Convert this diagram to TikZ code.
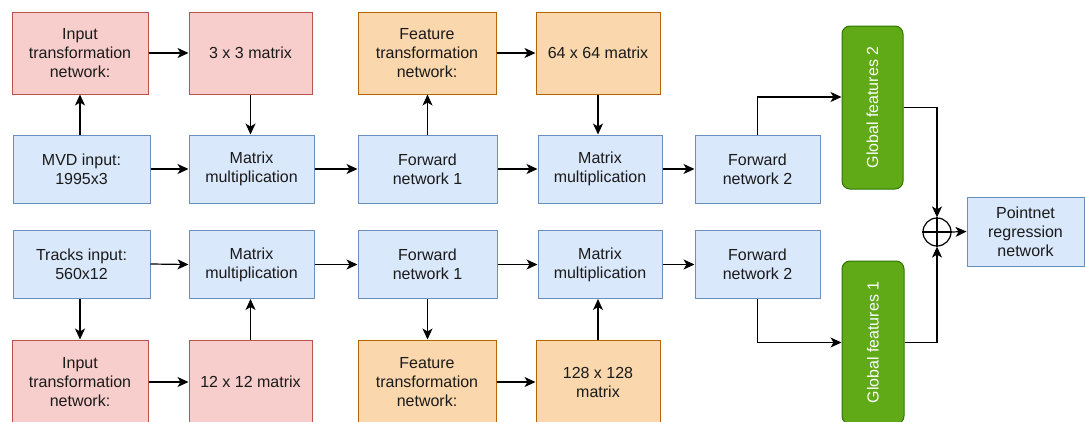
\documentclass[tikz,border=0pt]{standalone}
\usepackage{fontspec}
\setmainfont{Liberation Sans}
\usetikzlibrary{arrows.meta,calc}
\definecolor{bfill}{HTML}{DAE8FC}\definecolor{bdraw}{HTML}{6C8EBF}
\definecolor{rfill}{HTML}{F8CECC}\definecolor{rdraw}{HTML}{B85450}
\definecolor{ofill}{HTML}{FAD7AC}\definecolor{odraw}{HTML}{B46504}
\definecolor{gfill}{HTML}{60A917}\definecolor{gdraw}{HTML}{2D7600}
\definecolor{txt}{HTML}{1A1A1A}
\tikzset{
  box/.style={rectangle,line width=1pt,inner sep=0pt,align=center,text=txt,
    font=\fontsize{16}{19}\selectfont},
  bluebox/.style={box,fill=bfill,draw=bdraw},
  redbox/.style={box,fill=rfill,draw=rdraw},
  orabox/.style={box,fill=ofill,draw=odraw},
  grnbox/.style={box,fill=gfill,draw=gdraw,rounded corners=8pt,text=white},
  arr/.style={line width=1.2pt,draw=black,-{Stealth[length=11pt,width=10pt,inset=3pt]}}
}
\begin{document}
\begin{tikzpicture}[x=1pt,y=-1pt]
\useasboundingbox (0,0) rectangle (1085,421);
% top row
\node[redbox,minimum width=136,minimum height=82] (it1) at (80,53) {Input\\transformation\\network:};
\node[redbox,minimum width=123,minimum height=82] (m1) at (250.5,53) {3 x 3 matrix};
\node[orabox,minimum width=138,minimum height=82] (ft1) at (427,53) {Feature\\transformation\\network:};
\node[orabox,minimum width=124,minimum height=82] (m64) at (598,53) {64 x 64 matrix};
\node[bluebox,minimum width=137,minimum height=68] (mvd) at (81.5,169) {MVD input:\\1995x3};
\node[bluebox,minimum width=125,minimum height=68] (mm1) at (251.5,169) {Matrix\\multiplication};
\node[bluebox,minimum width=139,minimum height=68] (fw1) at (427.5,169) {Forward\\network 1};
\node[bluebox,minimum width=124,minimum height=68] (mm2) at (600,169) {Matrix\\multiplication};
\node[bluebox,minimum width=125,minimum height=68] (fn2) at (757.5,169) {Forward\\network 2};
% bottom rows
\node[bluebox,minimum width=137,minimum height=68] (tr) at (81.5,264) {Tracks input:\\560x12};
\node[bluebox,minimum width=125,minimum height=68] (mm3) at (251.5,264.5) {Matrix\\multiplication};
\node[bluebox,minimum width=139,minimum height=68] (fw3) at (427.5,264.5) {Forward\\network 1};
\node[bluebox,minimum width=124,minimum height=68] (mm4) at (600,264.5) {Matrix\\multiplication};
\node[bluebox,minimum width=125,minimum height=68] (fn4) at (757.5,264.5) {Forward\\network 2};
\node[redbox,minimum width=136,minimum height=84] (it2) at (80,382) {Input\\transformation\\network:};
\node[redbox,minimum width=123,minimum height=84] (m12) at (250.5,382) {12 x 12 matrix};
\node[orabox,minimum width=138,minimum height=84] (ft2) at (427,382) {Feature\\transformation\\network:};
\node[orabox,minimum width=124,minimum height=84] (m128) at (598,382) {128 x 128\\matrix};
% right part
\node[grnbox,minimum width=61,minimum height=163] (gf2) at (872.5,107.5) {};
\node[text=white,font=\fontsize{16}{19}\selectfont,rotate=90] (gf2t) at (gf2.center) {Global features 2};
\node[grnbox,minimum width=62,minimum height=163] (gf1) at (873,342.5) {};
\node[text=white,font=\fontsize{16}{19}\selectfont,rotate=90] (gf1t) at (gf1.center) {Global features 1};
\node[circle,draw=black,line width=1.2pt,minimum size=28pt,inner sep=0pt] (add) at (937,232) {};
\draw[line width=1.2pt] (add.north) -- (add.south) (add.west) -- (add.east);
\node[bluebox,minimum width=117,minimum height=69] (pn) at (1025.5,231.5) {Pointnet\\regression\\network};
% arrows top
\draw[arr] (it1.south |- mvd.north) -- (it1.south);
\draw[arr] (it1.east) -- (m1.west);
\draw[arr] (m1.south) -- (m1.south |- mm1.north);
\draw[arr] (mvd.east) -- (mm1.west);
\draw[arr] (mm1.east) -- (fw1.west);
\draw[arr] (fw1.north) -- (fw1.north |- ft1.south);
\draw[arr] (ft1.east) -- (m64.west);
\draw[arr] (m64.south) -- (m64.south |- mm2.north);
\draw[arr] (fw1.east) -- (mm2.west);
\draw[arr] (mm2.east) -- (fn2.west);
\draw[arr] (fn2.north) |- ([yshift=10.5pt]gf2.west);
\draw[arr] (gf2.east) -| (add.north);
% arrows bottom
\draw[arr] (tr.east) -- (mm3.west);
\draw[arr] (it2.north |- tr.south) -- (it2.north);
\draw[arr] (it2.east) -- (m12.west);
\draw[arr] (m12.north) -- (m12.north |- mm3.south);
\draw[arr] (mm3.east) -- (fw3.west);
\draw[arr] (fw3.south) -- (fw3.south |- ft2.north);
\draw[arr] (ft2.east) -- (m128.west);
\draw[arr] (m128.north) -- (m128.north |- mm4.south);
\draw[arr] (fw3.east) -- (mm4.west);
\draw[arr] (mm4.east) -- (fn4.west);
\draw[arr] (fn4.south) |- (gf1.west);
\draw[arr] (gf1.east) -| (add.south);
\draw[arr] (add.east) -- (pn.west);
\end{tikzpicture}
\end{document}
